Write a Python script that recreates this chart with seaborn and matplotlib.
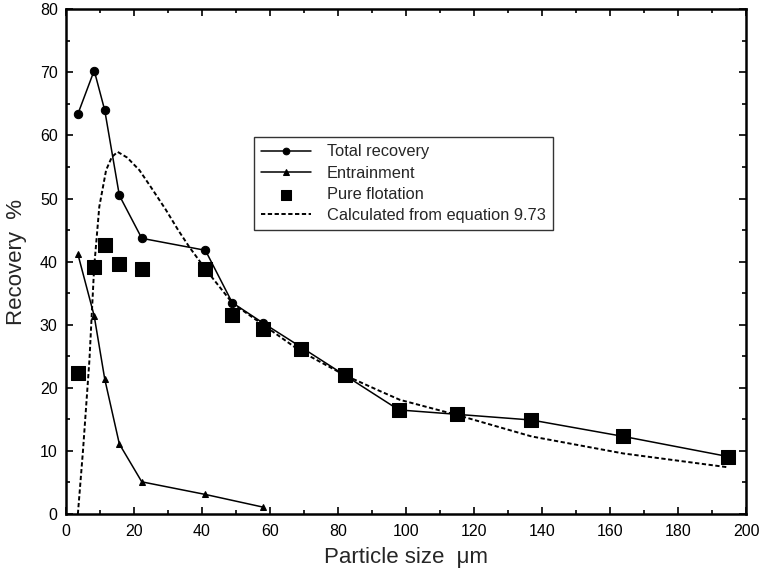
import matplotlib
matplotlib.use("Agg")
import matplotlib.pyplot as plt
import seaborn as sns
import pandas as pd

# Data
size = [3.5, 8.3, 11.4, 15.7, 22.3, 41.0, 48.9, 57.9, 69.0, 82.0, 97.9, 115.0, 136.9, 163.9, 194.8]
total_recovery = [63.4, 70.3, 64.0, 50.5, 43.7, 41.8, 33.5, 30.3, 26.5, 22.0, 16.5, 15.8, 14.9, 12.3, 9.1]
pure_flotation = [22.3, 39.1, 42.6, 39.6, 38.8, 38.8, 31.5, 29.4, 26.2, 22.0, 16.5, 15.8, 14.9, 12.3, 9.1]
entr_size = [3.5, 8.3, 11.4, 15.7, 22.3, 41.0, 57.9]
entrainment = [41.2, 31.4, 21.4, 11.1, 5.1, 3.1, 1.1]
calc_size = [3.5, 5.0, 6.9, 8.3, 9.8, 11.8, 13.5, 15.2, 18.0, 21.6, 25.0, 29.4, 33.0, 36.3, 41.2, 49.0, 56.9, 69.0, 82.0, 92.3, 98.2, 115.0, 136.9, 163.9, 194.8]
calc_rec = [0.0, 10.0, 24.4, 39.2, 48.7, 54.5, 56.6, 57.4, 56.5, 54.5, 51.8, 48.2, 45.0, 42.3, 38.7, 33.4, 30.4, 25.8, 22.0, 19.5, 18.1, 15.7, 12.3, 9.6, 7.4]

sns.set_style("ticks")
plt.rcParams['font.family'] = ['Liberation Sans', 'DejaVu Sans']

fig = plt.figure(figsize=(7.6, 5.71), dpi=100)
ax = fig.add_axes([0.0868, 0.0998, 0.8948, 0.8839])

df_tot = pd.DataFrame({"x": size, "y": total_recovery})
df_pf = pd.DataFrame({"x": size, "y": pure_flotation})
df_en = pd.DataFrame({"x": entr_size, "y": entrainment})
df_calc = pd.DataFrame({"x": calc_size, "y": calc_rec})

sns.lineplot(data=df_tot, x="x", y="y", ax=ax, color="black", lw=1.1, marker="o",
             markersize=6, markeredgecolor="black", sort=False, label="Total recovery")
sns.lineplot(data=df_en, x="x", y="y", ax=ax, color="black", lw=1.1, marker="^",
             markersize=5, markeredgecolor="black", sort=False, label="Entrainment")
sns.scatterplot(data=df_pf, x="x", y="y", ax=ax, color="black", marker="s", s=90,
                edgecolor="black", label="Pure flotation", zorder=5)
sns.lineplot(data=df_calc, x="x", y="y", ax=ax, color="black", lw=1.4,
             linestyle=(0, (2.2, 1.3)), sort=False, label="Calculated from equation 9.73")

ax.set_xlim(0, 200)
ax.set_ylim(0, 80)
ax.set_xticks(range(0, 201, 20))
ax.set_yticks(range(0, 81, 10))
ax.set_xticks(range(10, 200, 20), minor=True)
ax.set_yticks(range(5, 80, 10), minor=True)
ax.tick_params(which="both", direction="in", top=True, right=True, labelsize=11.5,
               colors="black", width=1.2)
ax.tick_params(which="major", length=5)
ax.tick_params(which="minor", length=3)
ax.tick_params(axis="x", which="both", pad=7)
ax.tick_params(axis="y", which="both", pad=6)
for s in ax.spines.values():
    s.set_visible(True)
    s.set_linewidth(1.8)
    s.set_color("black")

ax.set_xlabel("Particle size  \u03bcm", fontsize=16, labelpad=6)
ax.set_ylabel("Recovery  %", fontsize=16, labelpad=9)

leg = ax.legend(loc="upper left", bbox_to_anchor=(0.2765, 0.747), borderaxespad=0,
                fontsize=11.8, frameon=True, fancybox=False, edgecolor="black",
                handlelength=3.0, handletextpad=1.0, labelspacing=0.38,
                borderpad=0.45, markerscale=0.8)
leg.get_frame().set_linewidth(1.0)

fig.savefig("out.png", dpi=100)
